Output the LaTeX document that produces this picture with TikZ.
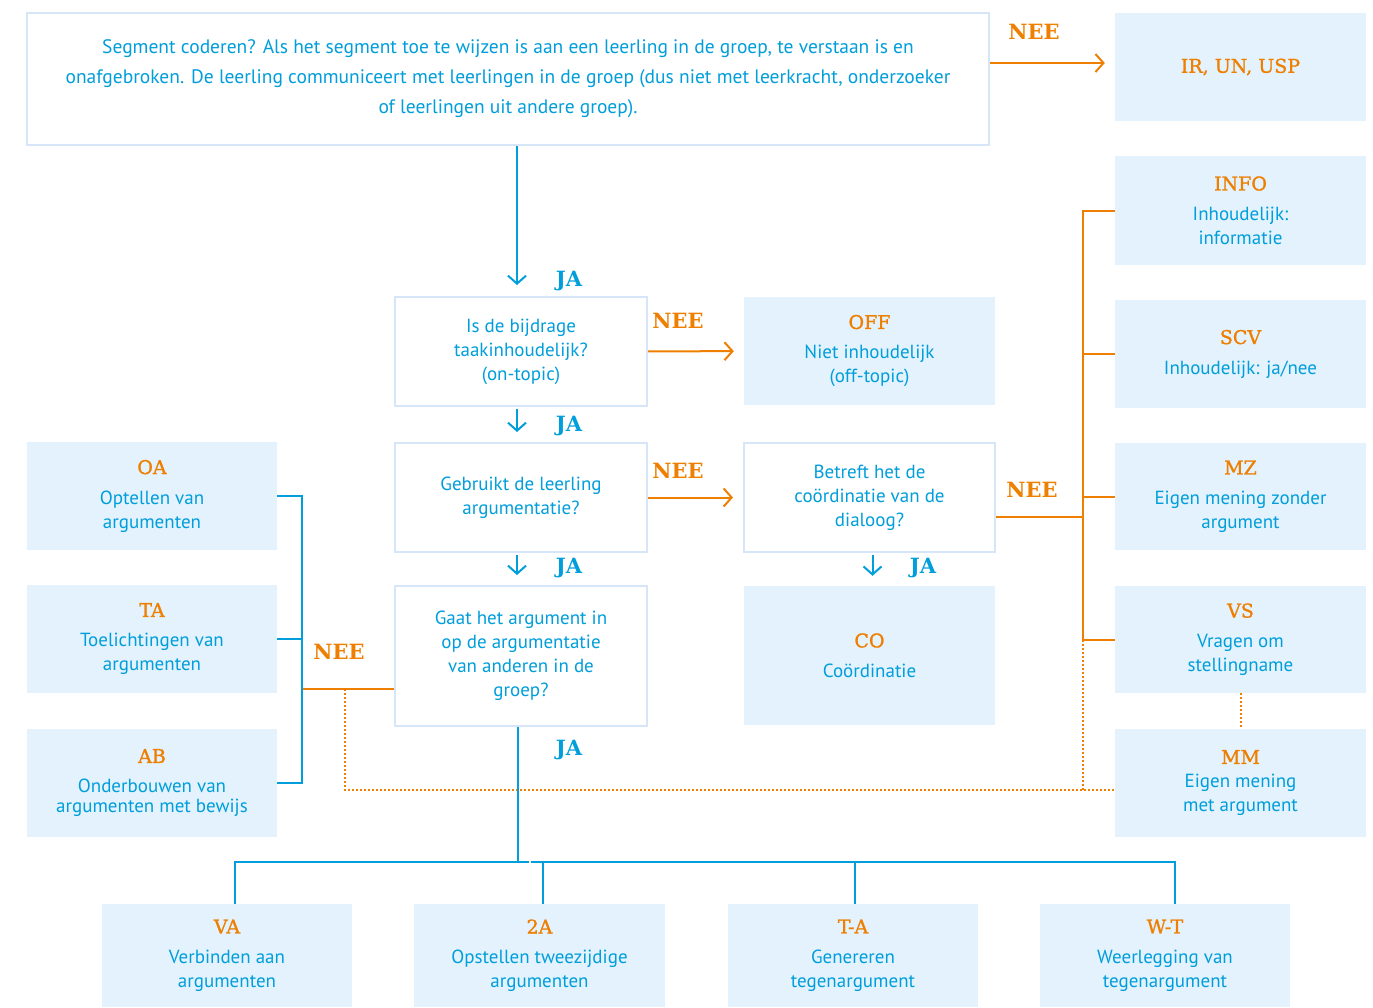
\documentclass[tikz,border=0pt]{standalone}
\usepackage{fontspec}
\setsansfont{PT Sans}
\newfontfamily\slabfont{DejaVu Serif}
\newfontfamily\slabmedfont[FakeBold=1.2]{DejaVu Serif}
\usepackage{xcolor}
\usepackage{tikz}
\usetikzlibrary{arrows.meta,positioning,calc}

\definecolor{kbblue}{RGB}{0,158,219}
\definecolor{kborange}{RGB}{238,127,0}
\definecolor{kbfill}{RGB}{227,242,253}
\definecolor{kbedge}{RGB}{214,230,248}

% code title on top of a box
\newcommand{\code}[1]{{\slabmedfont\fontsize{19}{22}\selectfont\color{kborange}#1}}

\begin{document}
\begin{tikzpicture}[
  x=1pt, y=-1pt,
  box/.style={inner sep=0pt, align=center, text=kbblue,
    font=\sffamily\fontsize{19}{24}\selectfont},
  qbox/.style={box, draw=kbedge, line width=2pt, fill=white},
  cbox/.style={box, fill=kbfill},
  sz/.style 2 args={minimum width=#1pt, minimum height=#2pt},
  ja/.style={font=\slabfont\bfseries\fontsize{21}{24}\selectfont, text=kbblue},
  nee/.style={font=\slabfont\bfseries\fontsize{21}{24}\selectfont, text=kborange},
  bline/.style={draw=kbblue, line width=2pt},
  oline/.style={draw=kborange, line width=2pt},
  odot/.style={draw=kborange, line width=2pt, dotted},
  barr/.style={bline, -{Straight Barb[length=8pt,width=18pt]}},
  oarr/.style={oline, -{Straight Barb[length=8pt,width=18pt]}}
]
  \useasboundingbox (0,0) rectangle (1373,1007);

  \node[qbox, sz={962}{132}, font=\sffamily\fontsize{19.5}{30}\selectfont] (top) at (508,79)
    {Segment coderen? Als het segment toe te wijzen is aan een leerling in de groep, te verstaan is en\\
     onafgebroken. De leerling communiceert met leerlingen in de groep (dus niet met leerkracht, onderzoeker\\
     of leerlingen uit andere groep).};

  % right column
  \node[cbox, sz={251}{108}] (ir) at (1240.5,67) {\code{IR, UN, USP}};
  \node[cbox, sz={251}{109}] (info) at (1240.5,210.5) {\code{INFO}\\[6pt] Inhoudelijk:\\ informatie};
  \node[cbox, sz={251}{108}] (scv) at (1240.5,354) {\code{SCV}\\[6pt] Inhoudelijk: ja/nee};
  \node[cbox, sz={251}{107}] (mz) at (1240.5,496.5) {\code{MZ}\\[6pt] Eigen mening zonder\\ argument};
  \node[cbox, sz={251}{107}] (vs) at (1240.5,639.5) {\code{VS}\\[6pt] Vragen om\\ stellingname};
  \node[cbox, sz={251}{108}] (mm) at (1240.5,783) {\code{MM}\\[0pt] Eigen mening\\ met argument};

  % middle
  \node[qbox, sz={252}{109}] (q1) at (521,351.5) {Is de bijdrage\\ taakinhoudelijk?\\ (on-topic)};
  \node[cbox, sz={251}{108}] (off) at (869.5,351) {\code{OFF}\\[6pt] Niet inhoudelijk\\ (off-topic)};
  \node[qbox, sz={252}{109}] (q2) at (521,497.5) {Gebruikt de leerling\\ argumentatie?};
  \node[qbox, sz={251}{109}] (q3) at (869.5,497.5) {Betreft het de\\ coördinatie van de\\ dialoog?};
  \node[qbox, sz={252}{140}] (q4) at (521,656) {Gaat het argument in\\ op de argumentatie\\ van anderen in de\\ groep?};
  \node[cbox, sz={251}{139}] (co) at (869.5,655.5) {\code{CO}\\[6pt] Coördinatie};

  % left column
  \node[cbox, sz={250}{108}] (oa) at (152,496) {\code{OA}\\[6pt] Optellen van\\ argumenten};
  \node[cbox, sz={250}{108}] (ta) at (152,639) {\code{TA}\\[6pt] Toelichtingen van\\ argumenten};
  \node[cbox, sz={250}{108}] (ab) at (152,783) {\code{AB}\\[6pt] Onderbouwen van\\[-4pt] argumenten met bewijs};

  % bottom row
  \node[cbox, sz={250}{103}] (va) at (227,955.5) {\code{VA}\\[6pt] Verbinden aan\\ argumenten};
  \node[cbox, sz={251}{103}] (twoa) at (539.5,955.5) {\code{2A}\\[6pt] Opstellen tweezijdige\\ argumenten};
  \node[cbox, sz={250}{103}] (tega) at (853,955.5) {\code{T-A}\\[6pt] Genereren\\ tegenargument};
  \node[cbox, sz={250}{103}] (weer) at (1165,955.5) {\code{W-T}\\[6pt] Weerlegging van\\ tegenargument};

  % labels
  \node[ja] (ja1) at (569,281) {JA};
  \node[ja] (ja2) at (569,426) {JA};
  \node[ja] (ja3) at (569,568) {JA};
  \node[ja] (ja4) at (923,568) {JA};
  \node[ja] (ja5) at (569,750) {JA};
  \node[nee] (nee1) at (1034,32) {NEE};
  \node[nee] (nee2) at (678,321) {NEE};
  \node[nee] (nee3) at (678,471) {NEE};
  \node[nee] (nee4) at (1032,490) {NEE};
  \node[nee] (nee5) at (339,652) {NEE};

  \coordinate (rb) at (1083,517);
  \coordinate (lj) at (302,689);
  \coordinate (ld) at (345,689);
  \coordinate (md) at (1115,790);

  % yes arrows
  \draw[barr, shorten >=11pt, transform canvas={xshift=-4pt}] (top.south -| q1.north) -- (q1.north);
  \draw[barr, shorten <=2pt, shorten >=10pt, transform canvas={xshift=-4pt}] (q1) -- (q2);
  \draw[barr, shorten <=2pt, shorten >=10pt, transform canvas={xshift=-4pt}] (q2) -- (q4);
  \draw[barr, shorten <=2pt, shorten >=10pt, transform canvas={xshift=3pt}] (q3) -- (co);

  % no arrows
  \draw[oarr, shorten >=10pt, transform canvas={yshift=4pt}] (top.east |- ir.west) -- (ir.west);
  \draw[oarr, shorten >=10pt] (q1) -- (off);
  \draw[oarr, shorten >=10pt] (q2) -- (q3);

  % right bracket
  \draw[oline] (q3.east |- rb) -- (rb);
  \draw[oline] (info.west) -- (info.west -| rb) -- (vs.west -| rb) -- (vs.west);
  \draw[oline] (scv.west) -- (scv.west -| rb);
  \draw[oline] (mz.west) -- (mz.west -| rb);

  % left bracket
  \draw[oline] (q4.west |- lj) -- (lj);
  \draw[bline] (oa.east) -- (oa.east -| lj) -- (ab.east -| lj) -- (ab.east);
  \draw[bline] (ta.east) -- (ta.east -| lj);

  % dotted links
  \draw[odot] (ld) |- (md);
  \draw[odot] (vs.west -| rb) -- (rb |- md);
  \draw[odot] (vs.south) -- (mm.north);

  % bottom split
  \draw[bline, transform canvas={xshift=-3pt}] (q4.south) -- ++(0,135) coordinate (split);
  \draw[bline, transform canvas={xshift=8pt}] (va.north) |- (split);
  \draw[bline, transform canvas={xshift=10pt}] (weer.north) |- (split);
  \draw[bline, transform canvas={xshift=3pt}] (twoa.north) -- (twoa.north |- split);
  \draw[bline, transform canvas={xshift=2pt}] (tega.north) -- (tega.north |- split);
\end{tikzpicture}
\end{document}
